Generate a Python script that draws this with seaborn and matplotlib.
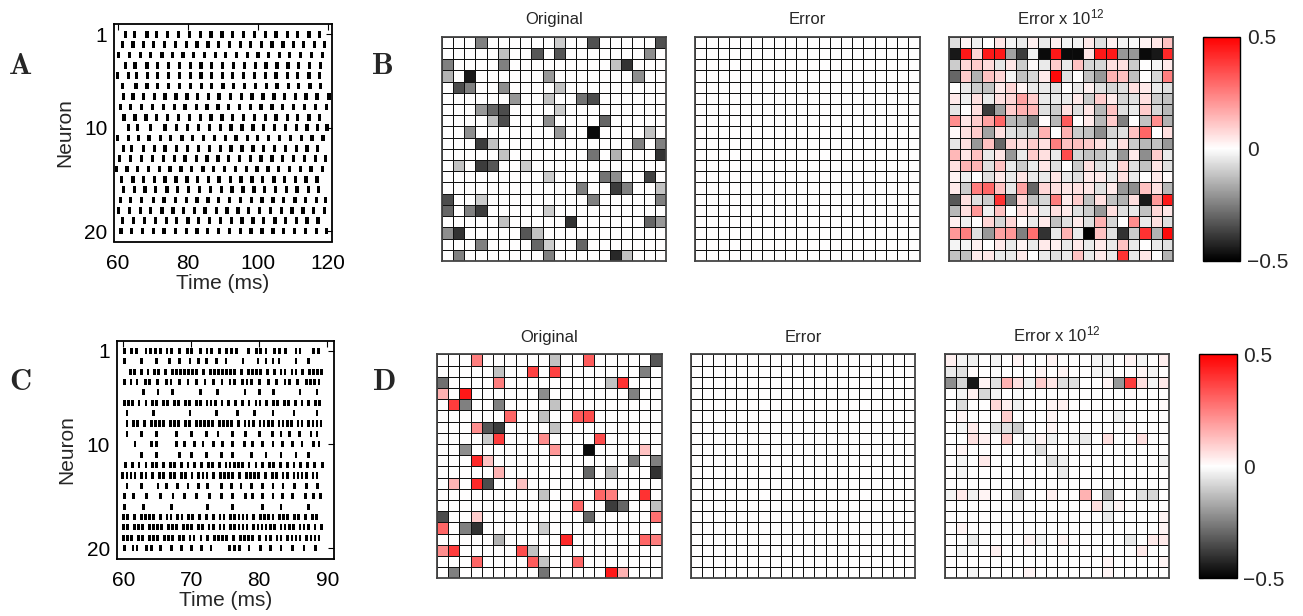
import numpy as np
import pandas as pd
import matplotlib
matplotlib.use("Agg")
import matplotlib.pyplot as plt
import seaborn as sns
from matplotlib.colors import LinearSegmentedColormap
from matplotlib.markers import MarkerStyle

# ---------------- data ----------------
neuron_ticks = [1, 10, 20]
time_ticks_A = [60, 80, 100, 120]
time_ticks_C = [60, 70, 80, 90]

spikes_A = [
    [62.1, 64.7, 68.3, 71.1, 74.2, 77.3, 80.4, 83.5, 86.6, 89.7, 92.8, 95.9, 98.9, 102.1, 105.1, 108.3, 111.3, 114.5, 117.5],
    [61.4, 64.3, 67.3, 70.2, 73.3, 76.4, 79.5, 82.6, 85.7, 88.8, 91.8, 94.9, 97.8, 100.9, 104.0, 107.1, 110.2, 113.0, 116.1, 119.0],
    [60.2, 63.3, 66.4, 69.4, 72.6, 75.6, 78.6, 81.6, 84.8, 87.8, 90.8, 93.8, 96.9, 100.0, 103.0, 106.1, 109.0, 112.1, 115.2, 118.3],
    [62.1, 64.9, 68.3, 71.3, 74.5, 77.5, 80.7, 83.7, 86.8, 89.9, 93.0, 96.2, 99.2, 102.3, 105.4, 108.5, 111.6, 114.7, 117.8],
    [59.9, 63.0, 65.4, 68.5, 71.4, 74.5, 77.6, 80.7, 83.7, 86.8, 89.9, 92.8, 95.9, 98.9, 102.1, 105.1, 108.3, 111.3, 114.5, 117.5],
    [61.4, 65.2, 68.3, 71.4, 74.5, 77.6, 80.7, 83.8, 86.8, 90.0, 93.0, 96.2, 99.2, 102.4, 105.4, 108.6, 111.6, 114.8, 117.8],
    [61.6, 64.3, 67.3, 70.5, 73.5, 76.6, 79.7, 82.8, 85.9, 88.9, 92.1, 95.2, 98.3, 101.4, 104.5, 107.5, 110.7, 113.7, 116.8, 120.2],
    [60.7, 63.7, 66.8, 69.9, 73.0, 76.2, 79.2, 82.4, 85.4, 88.6, 91.6, 94.8, 97.8, 100.8, 104.0, 107.0, 110.2, 113.3, 116.4, 119.5],
    [61.8, 64.9, 68.0, 71.1, 74.2, 77.3, 80.4, 83.5, 86.6, 89.7, 92.8, 95.9, 98.9, 102.1, 105.1, 108.3, 111.3, 114.5, 117.5],
    [63.0, 65.7, 69.4, 73.5, 76.7, 79.9, 83.0, 86.1, 89.2, 92.3, 95.4, 98.6, 101.6, 104.7, 107.8, 110.9, 114.0, 117.0, 119.7],
    [59.9, 63.0, 65.9, 68.9, 72.1, 75.1, 78.3, 81.3, 84.5, 87.5, 90.7, 93.7, 96.9, 99.9, 103.0, 106.1, 109.2, 112.3, 115.4, 118.5],
    [61.6, 64.0, 67.3, 70.5, 73.5, 76.7, 79.9, 83.0, 86.1, 89.2, 92.3, 95.4, 98.6, 101.6, 104.7, 107.8, 110.9, 114.0, 117.0],
    [60.5, 63.7, 66.8, 69.9, 73.0, 76.2, 79.2, 82.4, 85.4, 88.6, 91.6, 94.8, 97.8, 100.8, 104.0, 107.0, 110.2, 113.3, 116.4, 119.2],
    [59.7, 62.6, 65.6, 68.8, 71.9, 74.9, 78.0, 81.1, 84.3, 87.3, 90.5, 93.5, 96.7, 99.7, 102.8, 105.9, 109.0, 112.1, 115.1, 118.3],
    [61.1, 64.3, 67.3, 70.4, 73.5, 76.6, 79.7, 82.8, 85.9, 88.9, 92.1, 95.1, 98.3, 101.3, 104.5, 107.5, 110.7, 113.7, 116.8],
    [61.6, 64.7, 67.8, 70.8, 74.0, 77.1, 80.2, 83.3, 86.4, 89.5, 92.6, 95.7, 98.8, 101.9, 104.9, 108.1, 111.1, 114.3, 117.3],
    [60.7, 63.7, 66.8, 70.2, 73.2, 76.4, 79.5, 82.6, 85.7, 88.8, 91.9, 94.9, 98.1, 101.1, 104.3, 107.3, 110.5, 113.5, 116.7, 119.2],
    [60.2, 63.3, 66.4, 69.4, 72.6, 75.7, 78.8, 81.9, 84.9, 88.1, 91.1, 94.3, 97.3, 100.5, 103.5, 106.7, 109.7, 112.8, 115.9, 118.9],
    [61.4, 64.5, 67.6, 70.7, 73.8, 76.8, 80.0, 83.0, 86.2, 89.2, 92.4, 95.4, 98.6, 101.6, 104.8, 107.8, 110.9, 114.0, 117.1],
    [60.9, 64.0, 67.0, 70.2, 73.2, 76.4, 79.5, 82.6, 85.6, 88.8, 91.9, 94.9, 98.0, 101.1, 104.3, 107.3, 110.4, 113.5, 116.7, 119.5],
]

spikes_C = [
    [60.1, 61.2, 61.9, 63.3, 64.0, 64.7, 65.4, 66.4, 67.1, 68.3, 69.4, 70.0, 71.3, 72.3, 73.0, 74.1, 75.2, 75.9, 76.6, 78.4, 79.6, 80.2, 81.0, 82.2, 83.0, 83.9, 85.4, 86.0, 88.0, 88.7],
    [60.2, 62.7, 64.9, 66.8, 68.3, 69.8, 71.0, 72.2, 73.7, 75.1, 77.6, 79.8, 81.0, 82.0, 82.9, 85.4, 87.3],
    [61.0, 61.6, 62.6, 63.6, 64.6, 65.2, 66.2, 67.2, 67.8, 68.4, 69.0, 69.6, 70.2, 70.8, 71.8, 72.8, 73.4, 74.0, 74.6, 75.2, 75.8, 76.4, 77.4, 78.4, 79.0, 79.6, 80.2, 81.2, 82.2, 83.2, 83.8, 84.8, 85.4, 86.4, 87.4, 88.0, 88.6, 89.2],
    [60.2, 61.1, 62.0, 63.2, 63.8, 65.0, 66.3, 67.0, 68.3, 69.5, 70.8, 72.0, 73.2, 74.5, 75.7, 76.3, 77.5, 78.2, 78.8, 80.0, 81.3, 82.5, 83.8, 84.4, 85.6, 86.9, 87.5, 88.1, 88.8],
    [63.0, 65.1, 67.2, 71.3, 73.8, 77.9, 80.0, 82.1, 86.0, 88.5],
    [60.1, 60.7, 61.3, 62.3, 63.3, 64.3, 64.9, 65.9, 66.5, 67.5, 68.1, 69.1, 69.7, 70.7, 71.3, 72.3, 72.9, 73.5, 74.5, 75.5, 76.5, 77.5, 78.5, 79.5, 80.1, 81.1, 82.1, 82.7, 83.7, 84.3, 85.3, 86.3, 87.3, 88.3, 88.9],
    [60.5, 64.4, 69.8, 73.7, 76.8, 79.3, 82.0, 85.1, 88.5],
    [60.5, 61.5, 62.1, 63.1, 64.1, 64.7, 65.3, 65.9, 66.9, 67.5, 68.1, 69.1, 69.7, 70.7, 71.3, 71.9, 72.5, 73.1, 74.1, 74.7, 75.3, 75.9, 76.9, 77.9, 78.5, 79.1, 80.1, 80.7, 81.3, 81.9, 82.9, 83.5, 84.1, 84.7, 85.7, 86.3, 87.3, 87.9, 88.5, 89.1],
    [60.5, 62.7, 64.9, 67.8, 70.0, 72.2, 73.9, 76.1, 78.0, 80.0, 81.9, 83.2, 84.4, 85.9, 87.6, 88.5],
    [61.7, 64.1, 64.9, 67.8, 69.0, 70.5, 71.7, 73.2, 74.6, 76.1, 77.8, 79.0, 80.5, 82.0, 83.4, 84.9, 86.3, 88.0, 88.8],
    [62.7, 64.9, 68.3, 70.0, 72.2, 74.4, 76.1, 78.8, 81.0, 83.2, 85.4, 87.3],
    [60.3, 61.3, 62.3, 63.3, 64.3, 64.9, 65.9, 66.9, 67.5, 68.5, 69.5, 70.5, 71.5, 72.5, 73.1, 74.1, 75.1, 75.7, 76.3, 76.9, 77.5, 78.5, 79.5, 80.5, 81.5, 82.1, 83.1, 84.1, 85.1, 86.1, 87.1, 88.1, 89.3],
    [59.9, 60.5, 61.1, 61.7, 62.7, 63.3, 64.3, 65.3, 65.9, 66.9, 67.5, 68.5, 69.1, 70.1, 71.1, 71.7, 72.3, 73.3, 74.3, 74.9, 75.5, 76.1, 77.1, 78.1, 78.7, 79.3, 79.9, 80.9, 81.9, 82.5, 83.5, 84.1, 85.1, 85.7, 86.3, 86.9, 87.9, 88.5],
    [60.5, 62.7, 65.1, 66.3, 68.0, 69.5, 71.0, 72.4, 74.4, 75.9, 77.3, 78.8, 80.5, 82.0, 83.5, 85.2, 86.9, 88.6],
    [60.2, 61.5, 63.4, 65.4, 67.3, 69.0, 70.7, 72.7, 74.4, 76.1, 78.0, 79.0, 80.5, 82.0, 83.4, 84.9, 86.8, 88.0, 89.0],
    [60.2, 62.9, 67.1, 72.4, 76.1, 80.5, 83.2, 87.3],
    [60.0, 60.6, 61.6, 62.6, 63.2, 63.8, 64.4, 65.4, 66.4, 67.0, 68.0, 68.6, 69.6, 70.2, 71.2, 72.2, 73.2, 74.2, 74.8, 75.8, 76.4, 77.0, 77.6, 78.2, 79.2, 80.2, 80.8, 81.4, 82.0, 83.0, 83.6, 84.2, 85.2, 85.8, 86.8, 87.8, 88.4],
    [60.0, 60.6, 61.6, 62.2, 62.8, 63.8, 64.4, 65.0, 65.6, 66.6, 67.2, 67.8, 68.8, 69.4, 70.0, 71.0, 71.6, 72.6, 73.2, 74.2, 74.8, 75.8, 76.4, 77.0, 77.6, 78.2, 79.2, 79.8, 80.4, 81.0, 81.6, 82.2, 83.2, 83.8, 84.4, 85.0, 86.0, 86.6, 87.2, 88.2, 89.2],
    [60.0, 60.6, 61.2, 62.2, 62.8, 63.8, 64.4, 65.0, 66.0, 66.6, 67.2, 68.2, 68.8, 69.8, 70.4, 71.4, 72.4, 73.4, 74.0, 74.6, 75.2, 76.2, 77.2, 77.8, 78.4, 79.0, 80.0, 81.0, 81.6, 82.6, 83.2, 84.2, 84.8, 85.4, 86.0, 87.0, 87.6, 88.2, 88.8],
    [60.2, 61.4, 62.0, 63.4, 64.1, 65.5, 67.1, 68.5, 70.0, 71.5, 72.9, 75.6, 76.3, 77.1, 78.5, 80.2, 81.7, 83.2, 84.9, 86.6, 88.3],
]

# connectivity: columns of the 4 non-zero weights in every row
orig_cols = [
    [3, 10, 13, 19], [5, 8, 10, 18], [0, 5, 15, 16], [0, 2, 9, 17], [1, 2, 5, 10],
    [6, 9, 12, 13], [3, 4, 5, 10], [4, 5, 9, 14], [2, 10, 13, 18], [3, 4, 17, 19],
    [5, 13, 15, 19], [1, 3, 4, 7], [9, 14, 15, 18], [12, 15, 16, 19], [0, 3, 13, 19],
    [0, 2, 3, 9], [5, 11, 18, 19], [0, 1, 7, 8], [3, 8, 9, 12], [1, 9, 15, 16],
]
origB_vals = [
    [-0.25, -0.10, -0.34, -0.34], [-0.12, -0.33, -0.33, -0.22], [-0.25, -0.25, -0.12, -0.40],
    [-0.15, -0.45, -0.20, -0.22], [-0.35, -0.25, -0.22, -0.12], [-0.20, -0.12, -0.27, -0.35],
    [-0.20, -0.30, -0.35, -0.10], [-0.12, -0.35, -0.22, -0.30], [-0.22, -0.20, -0.48, -0.12],
    [-0.38, -0.12, -0.25, -0.25], [-0.12, -0.27, -0.15, -0.40], [-0.12, -0.38, -0.33, -0.10],
    [-0.10, -0.27, -0.22, -0.37], [-0.25, -0.38, -0.25, -0.12], [-0.35, -0.10, -0.25, -0.25],
    [-0.30, -0.25, -0.38, -0.10], [-0.12, -0.40, -0.30, -0.20], [-0.22, -0.40, -0.33, -0.12],
    [-0.25, -0.30, -0.10, -0.30], [-0.25, -0.25, -0.42, -0.12],
]
origD_vals = [
    [0.25, -0.12, 0.32, -0.33], [-0.12, 0.37, 0.37, -0.25], [-0.28, 0.25, -0.12, 0.40],
    [0.15, 0.45, -0.22, -0.25], [0.38, -0.25, -0.25, -0.12], [0.30, -0.12, 0.32, 0.35],
    [0.22, -0.33, -0.38, -0.12], [-0.10, 0.38, 0.22, 0.35], [-0.22, 0.20, -0.48, 0.12],
    [0.42, 0.12, -0.25, -0.25], [0.15, -0.30, -0.14, -0.40], [0.15, 0.42, -0.35, 0.12],
    [-0.12, 0.30, 0.25, 0.40], [0.30, -0.38, -0.30, -0.12], [-0.35, 0.10, -0.30, 0.28],
    [0.30, -0.25, -0.40, -0.10], [-0.15, 0.42, 0.30, 0.25], [0.22, 0.38, 0.35, -0.12],
    [0.30, 0.32, -0.12, 0.30], [-0.25, -0.27, 0.45, 0.15],
]

errB_scaled = [
    [-0.06, 0.02, -0.03, 0, 0.05, -0.02, -0.04, 0.03, -0.04, 0.03, -0.02, -0.02, 0.04, -0.06, 0.03, -0.02, -0.01, 0.02, 0.05, 0.12],
    [-0.45, 0.45, 0.08, 0.45, 0.45, -0.18, -0.38, -0.03, -0.48, 0.45, -0.48, -0.48, 0.05, 0.45, 0.45, -0.20, -0.20, -0.48, -0.45, 0.42],
    [-0.10, 0.08, 0.10, 0.07, -0.05, 0.05, -0.10, 0.01, -0.04, 0.10, -0.04, 0.12, -0.08, -0.08, 0.06, 0.06, -0.10, 0, -0.02, 0.04],
    [-0.30, 0.10, -0.15, 0.12, 0.08, -0.02, -0.12, -0.08, 0.04, 0.48, -0.06, 0, -0.12, -0.20, 0.15, 0.12, -0.12, 0, -0.08, 0.25],
    [0, -0.04, -0.10, -0.12, 0.04, 0.08, 0.02, -0.04, -0.04, -0.06, 0, -0.04, 0.03, -0.06, -0.08, -0.06, 0.06, 0.04, -0.04, -0.06],
    [0.04, -0.03, 0.06, -0.04, 0.06, 0.08, 0.18, 0.10, -0.04, -0.04, -0.04, 0.04, -0.10, 0.10, 0.04, -0.08, -0.06, 0.06, -0.10, -0.12],
    [-0.05, 0, 0.06, -0.38, -0.18, 0.10, 0.15, 0.14, -0.06, -0.10, 0.06, -0.06, 0.05, -0.14, 0.12, -0.06, -0.04, 0.10, -0.08, -0.14],
    [0.22, 0.05, 0.10, 0.18, 0.30, -0.14, -0.15, -0.25, 0.01, -0.14, 0.32, 0, 0.04, -0.14, 0.10, -0.25, 0, -0.12, 0.22, -0.15],
    [0.01, 0.06, 0.10, -0.18, 0.06, -0.06, -0.08, -0.08, 0.15, 0, 0.15, -0.10, -0.12, -0.22, -0.08, -0.06, 0.12, 0.30, 0, 0.06],
    [-0.05, 0.06, -0.20, 0.12, -0.30, 0.08, 0.06, 0.10, 0.06, 0.25, 0.12, 0.12, 0.10, 0.06, -0.04, 0.06, -0.10, -0.14, -0.12, -0.20],
    [0.14, 0.05, 0.12, -0.04, 0.05, -0.20, -0.04, 0.10, 0.06, -0.04, 0.35, -0.08, -0.12, -0.12, -0.06, -0.20, 0.04, -0.22, 0.10, -0.04],
    [0.06, 0.15, 0.15, -0.06, 0.12, -0.04, -0.10, -0.04, 0.05, -0.06, 0, -0.10, 0.06, -0.06, -0.04, 0.08, -0.06, -0.12, 0.05, -0.06],
    [0.02, -0.03, 0, -0.06, 0.04, -0.04, 0.05, -0.04, -0.04, 0.05, -0.04, -0.06, 0.04, 0.04, -0.04, 0.06, -0.04, 0, 0.04, 0.01],
    [0.04, -0.10, 0.25, 0.30, 0.12, -0.05, 0.18, -0.30, 0.08, 0.06, 0.05, 0.06, 0.05, -0.06, 0.04, -0.20, -0.22, 0.12, 0.06, -0.14],
    [-0.33, 0.06, -0.06, -0.10, 0.40, -0.27, 0.08, -0.12, -0.08, 0.25, 0.04, 0.10, -0.12, 0.06, -0.12, -0.15, 0.06, -0.45, 0.20, 0.45],
    [-0.14, 0.06, 0.20, -0.03, 0.12, 0, 0.06, 0.04, -0.04, 0.06, 0.04, -0.06, -0.10, -0.20, 0.06, -0.06, -0.04, -0.12, 0.08, 0.05],
    [0.03, -0.03, 0, 0.08, -0.08, 0.08, 0.01, -0.04, 0.04, -0.12, -0.06, 0.04, -0.06, 0.15, -0.08, 0, 0.22, -0.04, 0.06, -0.06],
    [0.20, 0.25, -0.06, -0.20, 0.18, 0.20, -0.25, 0.28, -0.40, -0.04, 0.15, -0.04, -0.50, 0.12, -0.06, -0.40, -0.10, 0.40, -0.15, 0.48],
    [-0.02, -0.02, 0.03, 0, 0.04, -0.04, 0.02, -0.04, 0.04, 0.03, -0.04, 0.04, -0.04, 0.04, -0.04, 0.12, -0.04, 0, -0.04, -0.06],
    [-0.12, -0.12, 0.04, 0.05, -0.04, -0.04, 0.04, 0, -0.04, -0.06, -0.04, 0.12, -0.04, 0.04, -0.04, 0.40, -0.04, 0.05, 0, -0.15],
]

errD_scaled = [
    [0.03, -0.02, -0.03, 0, -0.02, 0, 0.02, 0, 0, 0.02, 0, 0, 0, -0.02, -0.02, 0, 0.02, -0.02, 0, 0.03],
    [-0.04, -0.06, 0.01, 0, -0.01, 0, 0, 0, 0.02, 0, 0.02, 0, 0, -0.02, -0.02, 0, 0, 0.02, -0.02, 0],
    [-0.22, -0.08, -0.45, 0.02, -0.06, 0.15, 0.06, -0.03, 0.10, 0.05, -0.06, -0.06, 0, 0, 0.02, -0.20, 0.38, 0.06, -0.02, 0.04],
    [0, -0.02, 0.03, -0.08, -0.02, 0, -0.01, 0, 0, 0, 0, 0, 0, 0, 0, 0, 0.01, 0, 0, 0],
    [0, -0.07, 0, 0, 0.08, 0.03, -0.03, 0, 0, 0.02, 0.03, 0, 0, 0, 0, 0, 0, 0, 0, 0.01],
    [0, 0.02, 0, 0, 0, 0.10, 0, 0, 0, 0.02, 0, 0, 0, 0, 0, -0.03, 0, 0, 0, 0],
    [0, -0.02, 0.04, 0, -0.06, -0.06, -0.10, 0, 0, 0.02, 0, 0, 0, 0, 0, 0, 0.01, 0, 0, 0],
    [0, 0, 0.06, 0.03, 0, 0.10, 0, -0.03, 0.02, -0.03, 0, -0.02, -0.04, 0, 0.06, 0, 0, 0.06, 0, 0],
    [0, 0.02, 0, 0, 0, 0, 0, 0, -0.06, 0, 0, 0, 0, 0, 0, 0, 0, 0, 0, 0],
    [0, -0.02, 0, 0.04, 0, 0, 0, 0, 0, -0.06, -0.03, 0, 0, 0, 0, 0, 0, 0, 0, -0.03],
    [0, -0.02, 0, 0, 0, 0, 0, 0, 0, 0, -0.04, 0, 0, 0, 0, 0, 0, 0, 0, 0],
    [0, 0, 0, 0, 0, 0, 0, 0, 0, 0, 0, 0, 0, 0, 0, -0.01, 0, 0, 0, 0],
    [-0.02, 0.04, -0.03, 0.02, 0, 0, -0.10, 0, 0, 0.03, 0, 0, 0.15, 0, -0.14, 0, 0, -0.06, -0.08, 0],
    [0, 0, 0, 0, 0, 0, 0, 0, 0, 0, 0, 0, 0, 0.06, -0.03, 0.02, 0, 0, 0, 0],
    [0, 0, 0, 0, 0, 0, 0, 0, 0, 0, 0, 0, 0, 0, -0.04, 0, 0, 0, 0, 0.02],
    [0, 0.02, 0, 0, 0, 0, 0, 0, 0, 0, 0, 0, 0, 0, 0, 0, 0, 0, 0, 0.02],
    [0, 0, -0.04, 0, 0, 0, 0, 0.02, -0.02, 0, 0.02, 0, 0, 0, 0, 0, -0.04, 0, 0.04, 0.04],
    [0, -0.02, 0, 0, 0.03, 0, 0, 0, 0, 0, 0, 0, 0, 0, 0, 0, 0, 0.04, 0, 0],
    [0, 0, 0, 0, 0, 0, 0, 0, 0, 0, 0, 0, 0, 0, 0.02, 0, 0, 0, 0, 0.02],
    [0, 0, -0.02, 0, 0, 0, 0, 0.02, 0, 0, 0, 0, 0, 0, 0.02, 0, 0, 0, 0, 0],
]

# raw error (before scaling by 1e12) is zero at this resolution
errB_raw = [[0.0] * 20 for _ in range(20)]
errD_raw = [[0.0] * 20 for _ in range(20)]

cbar_ticks = [-0.5, 0, 0.5]
cbar_labels = ["\u22120.5", "0", "0.5"]
titles = ["Original", "Error", "Error x 10$^{12}$"]

# ---------------- style ----------------
sns.set_theme(style="white")
plt.rcParams['font.family'] = ['Liberation Sans', 'DejaVu Sans']
plt.rcParams['mathtext.fontset'] = 'custom'
plt.rcParams['mathtext.rm'] = 'Liberation Sans'
plt.rcParams['mathtext.it'] = 'Liberation Sans:italic'
plt.rcParams['mathtext.bf'] = 'Liberation Sans:bold'

cmap = LinearSegmentedColormap.from_list("kwr", ["#000000", "#ffffff", "#ff0000"])

W, H = 1303, 616
fig = plt.figure(figsize=(W / 100, H / 100), dpi=100)


def px_axes(x0, y0, x1, y1):
    return fig.add_axes([x0 / W, 1 - y1 / H, (x1 - x0) / W, (y1 - y0) / H])


def build_orig(vals):
    M = np.zeros((20, 20))
    for r, (cols, vs) in enumerate(zip(orig_cols, vals)):
        for c, v in zip(cols, vs):
            M[r, c] = v
    return M


def draw_raster(ax, spikes, xlim, xticks, mh, aspect):
    rows = [(t, i) for i, ts in enumerate(spikes, start=1) for t in ts]
    df = pd.DataFrame(rows, columns=["time", "neuron"])
    verts = [(-aspect, -1), (aspect, -1), (aspect, 1), (-aspect, 1), (-aspect, -1)]
    sns.scatterplot(data=df, x="time", y="neuron", marker=MarkerStyle(verts),
                    s=mh ** 2, color="black", edgecolor="none", linewidth=0,
                    ax=ax, legend=False)
    ax.set_xlim(*xlim)
    ax.set_ylim(21, 0)
    ax.set_xticks(xticks)
    ax.set_yticks(neuron_ticks)
    ax.tick_params(direction="in", length=4, width=0.8, top=True, right=True,
                   labelsize=15, colors="black")
    ax.tick_params(axis="x", pad=9)
    ax.tick_params(axis="y", pad=5)
    ax.set_xlabel("Time (ms)", fontsize=15, labelpad=1)
    ax.set_ylabel("Neuron", fontsize=15, labelpad=7)
    for s in ax.spines.values():
        s.set_visible(True)
        s.set_color("black")
        s.set_linewidth(1.3)


def draw_matrix(ax, M, title, cax=None):
    sns.heatmap(np.asarray(M), ax=ax, cmap=cmap, vmin=-0.5, vmax=0.5,
                cbar=cax is not None, cbar_ax=cax,
                linewidths=0.6, linecolor="#111111",
                xticklabels=False, yticklabels=False)
    for s in ax.spines.values():
        s.set_visible(True)
        s.set_color("#444444")
        s.set_linewidth(1.3)
    ax.set_title(title, fontsize=12, pad=9)
    if cax is not None:
        cb = ax.collections[0].colorbar
        cb.set_ticks(cbar_ticks)
        cb.set_ticklabels(cbar_labels)
        cb.outline.set_visible(True)
        cb.outline.set_edgecolor("black")
        cb.outline.set_linewidth(1.0)
        cax.tick_params(direction="in", length=3, width=0.8, left=True, right=True,
                        labelsize=15, pad=5)


# ---------------- panels ----------------
axA = px_axes(114.3, 24, 331.7, 241.5)
draw_raster(axA, spikes_A, (59, 121), time_ticks_A, mh=4.8, aspect=0.5)

axC = px_axes(116.7, 340.5, 334.0, 558.5)
draw_raster(axC, spikes_C, (59, 91), time_ticks_C, mh=4.4, aspect=0.45)

B_x = [441.7, 695.2, 948.7]
B_mats = [build_orig(origB_vals), errB_raw, errB_scaled]
caxB = px_axes(1202.7, 36.7, 1240.0, 260.5)
for i, (x0, M, t) in enumerate(zip(B_x, B_mats, titles)):
    ax = px_axes(x0, 36.7, x0 + 224.3, 261.0)
    draw_matrix(ax, M, t, cax=caxB if i == 2 else None)

D_x = [437.0, 691.0, 944.7]
D_mats = [build_orig(origD_vals), errD_raw, errD_scaled]
caxD = px_axes(1198.5, 354.3, 1236.5, 578.3)
for i, (x0, M, t) in enumerate(zip(D_x, D_mats, titles)):
    ax = px_axes(x0, 354.3, x0 + 224.5, 578.3)
    draw_matrix(ax, M, t, cax=caxD if i == 2 else None)

# panel letters
for letter, (x, y) in {"A": (20, 67), "B": (383, 67), "C": (20, 383), "D": (385, 383)}.items():
    fig.text(x / W, 1 - y / H, letter, fontsize=22, fontweight="bold",
             family=["cmb10", "DejaVu Serif"], ha="center", va="center")

fig.savefig("out.png", dpi=100)
